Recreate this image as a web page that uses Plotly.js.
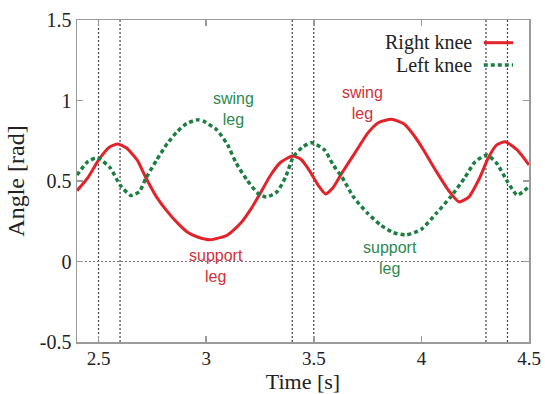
<!DOCTYPE html>
<html>
<head>
<meta charset="utf-8">
<script src="https://cdn.plot.ly/plotly-3.0.1.min.js"></script>
<style>html,body{margin:0;padding:0;background:#fff;}#chart{width:545px;height:394px;}</style>
</head>
<body>
<div id="chart"></div>
<script>
// Right knee (red, solid)
const rightTime = [2.40,2.45,2.50,2.55,2.59,2.63,2.68,2.72,2.77,2.82,2.87,2.91,2.96,3.02,3.10,3.16,3.21,3.25,3.30,3.345,3.40,3.44,3.48,3.52,3.555,3.59,3.63,3.69,3.75,3.80,3.86,3.92,3.97,4.01,4.07,4.13,4.175,4.22,4.27,4.31,4.35,4.39,4.445,4.50];
const rightAngle = [0.44,0.52,0.63,0.71,0.73,0.705,0.63,0.52,0.40,0.31,0.235,0.185,0.152,0.135,0.165,0.237,0.33,0.42,0.537,0.615,0.655,0.635,0.565,0.475,0.42,0.46,0.548,0.672,0.796,0.862,0.883,0.854,0.775,0.693,0.558,0.434,0.37,0.40,0.517,0.641,0.724,0.744,0.693,0.60];
// Left knee (green, dotted)
const leftTime = [2.40,2.45,2.495,2.555,2.60,2.65,2.69,2.72,2.77,2.82,2.865,2.91,2.96,2.99,3.05,3.10,3.14,3.19,3.24,3.28,3.33,3.37,3.405,3.45,3.49,3.55,3.59,3.63,3.685,3.75,3.81,3.87,3.93,4.00,4.07,4.135,4.20,4.25,4.305,4.35,4.40,4.445,4.50];
const leftAngle = [0.537,0.62,0.645,0.58,0.475,0.41,0.434,0.517,0.63,0.734,0.806,0.858,0.88,0.87,0.817,0.724,0.61,0.506,0.424,0.40,0.434,0.527,0.651,0.713,0.738,0.693,0.60,0.527,0.40,0.30,0.227,0.179,0.165,0.20,0.30,0.40,0.517,0.62,0.661,0.61,0.496,0.413,0.465];
// Phase boundaries (vertical dashed lines)
const phaseTimes = [2.5,2.6,3.4,3.5,4.3,4.4];
// Ticks
const xTicks = [2.5,3,3.5,4,4.5];
const xTickText = ["2.5","3","3.5","4","4.5"];
const yTicks = [-0.5,0,0.5,1,1.5];
const yTickText = ["-0.5","0","0.5","1","1.5"];
// Labels
const seriesNames = ["Right knee","Left knee"];
const phaseLabels = [
  {text:"swing<br>leg", x:3.126, y:0.947, series:1},
  {text:"support<br>leg", x:3.046, y:-0.025, series:0},
  {text:"swing<br>leg", x:3.726, y:0.984, series:0},
  {text:"support<br>leg", x:3.856, y:0.019, series:1}
];

const lineColors = ["#e2232a","#1c7f42"];
const textColors = ["#d3303a","#2b8a50"];
const serif = "Liberation Serif, Times New Roman, serif";
const axisGrey = "#9a9a9a";

const traces = [
  {x:rightTime, y:rightAngle, name:seriesNames[0], mode:"lines", type:"scatter",
   line:{color:lineColors[0], width:3, shape:"spline", smoothing:0.55}, showlegend:false},
  {x:leftTime, y:leftAngle, name:seriesNames[1], mode:"lines", type:"scatter",
   line:{color:lineColors[1], width:3.5, dash:"4px,3px", shape:"spline", smoothing:0.55}, showlegend:false}
];

const shapes = [];
phaseTimes.forEach(t => shapes.push({type:"line", xref:"x", yref:"paper", x0:t, x1:t, y0:0, y1:1,
  line:{color:"#444", width:1.2, dash:"2px,2px"}, layer:"below"}));
shapes.push({type:"line", xref:"paper", yref:"y", x0:0, x1:1, y0:0, y1:0,
  line:{color:"#777", width:1, dash:"2px,2px"}, layer:"below"});

// legend (text left of sample, as in reference)
const legY = [0.9295, 0.860];
const annotations = [];
seriesNames.forEach((n,i) => {
  annotations.push({xref:"paper", yref:"paper", x:0.878, y:legY[i], xanchor:"right", yanchor:"middle",
    text:n, showarrow:false, font:{family:serif, size:20, color:"#222"}});
  shapes.push({type:"line", xref:"paper", yref:"paper", x0:0.900, x1:0.9646, y0:legY[i], y1:legY[i],
    line:{color:lineColors[i], width:i===0?3:3.5, dash:i===0?"solid":"4px,3px"}});
});
phaseLabels.forEach(p => annotations.push({xref:"x", yref:"y", x:p.x, y:p.y, text:p.text, showarrow:false,
  align:"center", xanchor:"center", yanchor:"middle",
  font:{family:"Liberation Sans, Arial, sans-serif", size:16, color:textColors[p.series]}}));

const layout = {
  width:545, height:394,
  margin:{l:77, r:16, t:20, b:52},
  paper_bgcolor:"#fff", plot_bgcolor:"#fff",
  showlegend:false,
  xaxis:{range:[2.4,4.5], tickmode:"array", tickvals:xTicks, ticktext:xTickText,
    showgrid:false, zeroline:false, showline:true, linecolor:axisGrey, linewidth:1.5, mirror:"ticks",
    ticks:"inside", ticklen:6, tickwidth:1.5, tickcolor:axisGrey, ticklabelstandoff:-1,
    tickfont:{family:serif, size:19, color:"#222"},
    title:{text:"Time [s]", font:{family:serif, size:22, color:"#222"}, standoff:1}},
  yaxis:{range:[-0.5,1.5], tickmode:"array", tickvals:yTicks, ticktext:yTickText,
    showgrid:false, zeroline:false, showline:true, linecolor:axisGrey, linewidth:1.5, mirror:"ticks",
    ticks:"inside", ticklen:6, tickwidth:1.5, tickcolor:axisGrey,
    tickfont:{family:serif, size:20, color:"#222"},
    title:{text:"Angle [rad]", font:{family:serif, size:24, color:"#222"}, standoff:8}},
  shapes:shapes,
  annotations:annotations
};

Plotly.newPlot("chart", traces, layout, {staticPlot:true, displayModeBar:false});
</script>
</body>
</html>
